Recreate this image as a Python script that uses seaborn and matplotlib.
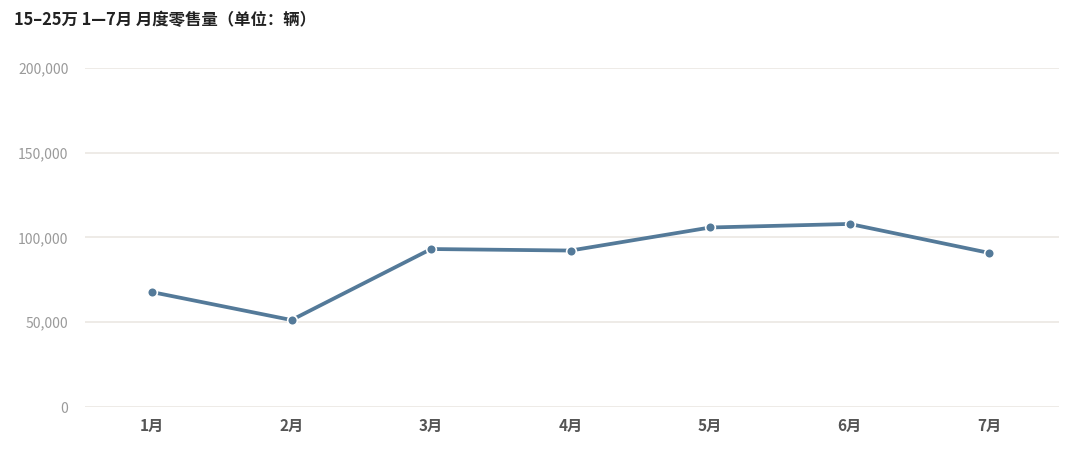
import matplotlib
matplotlib.use('Agg')
import matplotlib.pyplot as plt
import seaborn as sns
import pandas as pd
from matplotlib.ticker import FuncFormatter

# data
months = ['1月', '2月', '3月', '4月', '5月', '6月', '7月']
sales = [67800, 51300, 93200, 92300, 105900, 108000, 90900]
y_ticks = [0, 50000, 100000, 150000, 200000]

df = pd.DataFrame({'month': months, 'sales': sales})

sns.set_style('white')
plt.rcParams['font.family'] = ['Noto Sans CJK SC', 'DejaVu Sans']

fig = plt.figure(figsize=(10.8, 4.65), dpi=100)
ax = fig.add_axes([85 / 1080, 1 - 407 / 465, (1059 - 85) / 1080, (407 - 68) / 465])

sns.lineplot(data=df, x='month', y='sales', ax=ax, color='#547a99',
             linewidth=2.7, marker='o', markersize=7,
             markeredgecolor='white', markeredgewidth=1.2, sort=False)

ax.set_xlim(-0.48, len(months) - 0.5)
ax.set_ylim(0, 200000)
ax.set_yticks(y_ticks)
ax.yaxis.set_major_formatter(FuncFormatter(lambda v, p: f'{int(v):,}'))
ax.grid(axis='y', color='#e9e6e0', linewidth=1.1)
ax.set_axisbelow(True)
for s in ax.spines.values():
    s.set_visible(False)

ax.tick_params(axis='y', length=0, pad=12, labelsize=10, labelcolor='#9a9a9a')
ax.tick_params(axis='x', length=0, pad=8, labelsize=11, labelcolor='#555555')
for lbl in ax.get_xticklabels():
    lbl.set_fontweight('bold')
ax.set_xlabel('')
ax.set_ylabel('')

fig.text(14 / 1080, 1 - 20 / 465, '15–25万 1—7月 月度零售量（单位：辆）',
         fontsize=11.8, fontweight='bold', color='#222222', va='center', ha='left')

fig.savefig('out.png', dpi=100, facecolor='white')
